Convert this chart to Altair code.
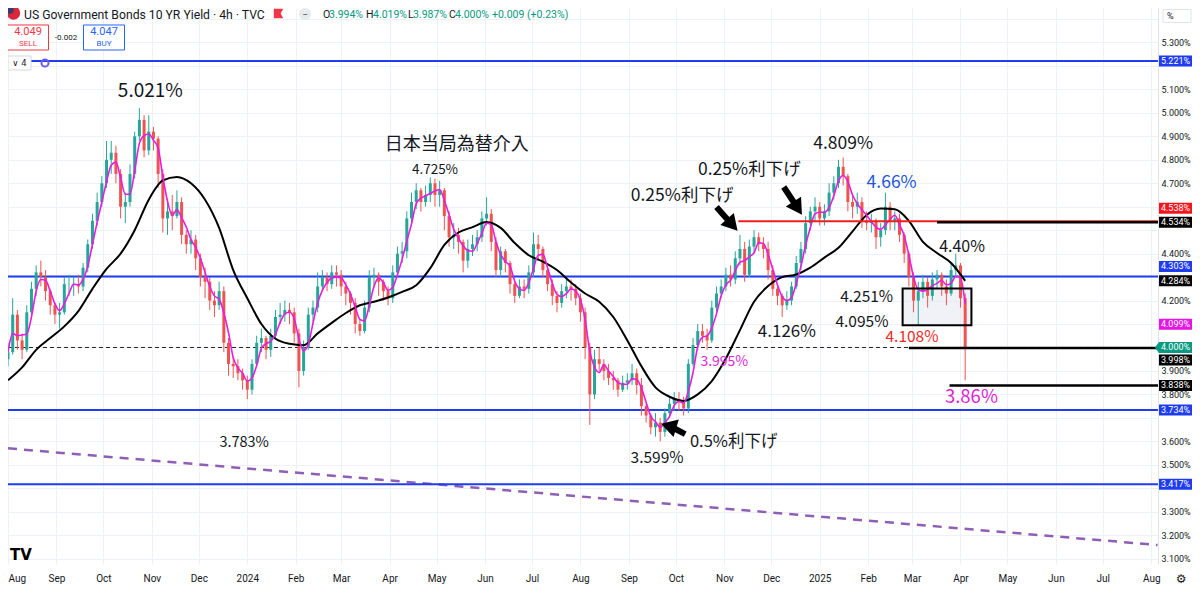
import altair as alt
import numpy as np
import pandas as pd

W, H = 1150, 556

# ---------------- data ----------------
candle_start = "2023-08-01"
candle_count = 205            # one candle every 3 days
first_open = 3.95
close = [3.98, 4.14, 4.03, 3.99, 4.15, 4.25, 4.32, 4.30, 4.24, 4.18,
         4.14, 4.15, 4.27, 4.27, 4.27, 4.26, 4.34, 4.44, 4.54, 4.62,
         4.70, 4.80, 4.83, 4.74, 4.60, 4.62, 4.74, 4.90, 4.97, 4.84,
         4.92, 4.89, 4.74, 4.55, 4.58, 4.56, 4.62, 4.48, 4.44, 4.46,
         4.38, 4.30, 4.28, 4.20, 4.18, 4.24, 4.02, 3.93, 3.92, 3.89,
         3.86, 3.82, 3.93, 4.02, 4.04, 3.99, 4.05, 4.13, 4.14, 4.16,
         4.15, 4.06, 3.90, 4.00, 4.14, 4.17, 4.26, 4.30, 4.27, 4.32,
         4.31, 4.26, 4.23, 4.19, 4.10, 4.07, 4.17, 4.30, 4.31, 4.28,
         4.24, 4.21, 4.32, 4.40, 4.41, 4.55, 4.62, 4.67, 4.62, 4.65,
         4.70, 4.65, 4.67, 4.56, 4.47, 4.48, 4.45, 4.37, 4.42, 4.44,
         4.47, 4.55, 4.57, 4.45, 4.33, 4.41, 4.36, 4.27, 4.22, 4.26,
         4.25, 4.32, 4.44, 4.42, 4.33, 4.27, 4.22, 4.19, 4.24, 4.26,
         4.25, 4.21, 4.15, 4.00, 3.80, 3.95, 3.93, 3.90, 3.87, 3.86,
         3.82, 3.85, 3.86, 3.89, 3.84, 3.75, 3.71, 3.66, 3.68, 3.64,
         3.72, 3.76, 3.78, 3.77, 3.74, 3.93, 4.01, 4.07, 4.05, 4.03,
         4.17, 4.23, 4.26, 4.31, 4.29, 4.38, 4.42, 4.31, 4.43, 4.47,
         4.44, 4.42, 4.33, 4.25, 4.22, 4.18, 4.20, 4.26, 4.36, 4.42,
         4.53, 4.58, 4.60, 4.55, 4.58, 4.66, 4.70, 4.77, 4.73, 4.62,
         4.60, 4.62, 4.54, 4.53, 4.54, 4.47, 4.50, 4.60, 4.54, 4.55,
         4.48, 4.40, 4.30, 4.20, 4.24, 4.28, 4.22, 4.29, 4.31, 4.26,
         4.23, 4.33, 4.35, 4.21, 4.00]
high = [4.02, 4.21, 4.16, 4.06, 4.18, 4.28, 4.35, 4.37, 4.33, 4.25,
        4.19, 4.19, 4.30, 4.31, 4.30, 4.31, 4.36, 4.46, 4.57, 4.66,
        4.73, 4.88, 4.88, 4.86, 4.76, 4.66, 4.78, 4.92, 5.02, 4.99,
        4.99, 4.94, 4.90, 4.76, 4.63, 4.65, 4.67, 4.64, 4.50, 4.50,
        4.48, 4.40, 4.34, 4.30, 4.24, 4.28, 4.26, 4.04, 3.96, 3.95,
        3.91, 3.88, 3.95, 4.05, 4.08, 4.05, 4.08, 4.16, 4.19, 4.20,
        4.19, 4.17, 4.08, 4.03, 4.17, 4.20, 4.32, 4.33, 4.32, 4.35,
        4.35, 4.33, 4.28, 4.24, 4.21, 4.12, 4.20, 4.33, 4.34, 4.32,
        4.29, 4.26, 4.35, 4.43, 4.45, 4.58, 4.66, 4.70, 4.68, 4.69,
        4.725, 4.72, 4.71, 4.68, 4.58, 4.53, 4.51, 4.46, 4.46, 4.48,
        4.50, 4.58, 4.64, 4.59, 4.47, 4.43, 4.42, 4.37, 4.28, 4.29,
        4.29, 4.35, 4.49, 4.48, 4.43, 4.34, 4.29, 4.24, 4.27, 4.29,
        4.29, 4.27, 4.23, 4.17, 4.02, 3.99, 4.00, 3.95, 3.93, 3.90,
        3.87, 3.88, 3.89, 3.93, 3.91, 3.87, 3.76, 3.72, 3.72, 3.70,
        3.74, 3.79, 3.81, 3.81, 3.79, 3.95, 4.04, 4.10, 4.10, 4.08,
        4.20, 4.26, 4.29, 4.34, 4.35, 4.41, 4.48, 4.45, 4.46, 4.50,
        4.49, 4.47, 4.45, 4.35, 4.26, 4.23, 4.24, 4.28, 4.39, 4.45,
        4.56, 4.60, 4.64, 4.62, 4.61, 4.70, 4.73, 4.80, 4.81, 4.74,
        4.65, 4.66, 4.64, 4.58, 4.57, 4.55, 4.53, 4.66, 4.62, 4.58,
        4.57, 4.49, 4.41, 4.32, 4.28, 4.31, 4.30, 4.32, 4.33, 4.32,
        4.29, 4.36, 4.40, 4.36, 4.23]
low = [3.92, 3.97, 3.99, 3.95, 3.98, 4.13, 4.22, 4.26, 4.20, 4.14,
       4.10, 4.08, 4.14, 4.22, 4.22, 4.23, 4.24, 4.32, 4.42, 4.52,
       4.60, 4.68, 4.74, 4.70, 4.55, 4.53, 4.60, 4.72, 4.88, 4.81,
       4.82, 4.84, 4.68, 4.49, 4.48, 4.50, 4.55, 4.44, 4.40, 4.40,
       4.33, 4.26, 4.21, 4.16, 4.13, 4.16, 3.98, 3.88, 3.87, 3.86,
       3.82, 3.78, 3.80, 3.92, 3.98, 3.95, 3.96, 4.04, 4.10, 4.11,
       4.10, 4.02, 3.83, 3.88, 3.99, 4.11, 4.15, 4.24, 4.24, 4.25,
       4.26, 4.22, 4.18, 4.14, 4.06, 4.05, 4.06, 4.15, 4.26, 4.22,
       4.20, 4.18, 4.19, 4.30, 4.36, 4.38, 4.52, 4.59, 4.58, 4.60,
       4.62, 4.60, 4.60, 4.50, 4.43, 4.42, 4.40, 4.32, 4.34, 4.39,
       4.41, 4.45, 4.52, 4.41, 4.30, 4.30, 4.32, 4.23, 4.19, 4.21,
       4.21, 4.23, 4.30, 4.37, 4.30, 4.24, 4.18, 4.15, 4.17, 4.21,
       4.20, 4.18, 4.11, 3.95, 3.67, 3.78, 3.90, 3.86, 3.84, 3.82,
       3.79, 3.81, 3.82, 3.84, 3.80, 3.71, 3.68, 3.63, 3.62, 3.60,
       3.62, 3.70, 3.73, 3.73, 3.71, 3.72, 3.92, 3.99, 4.02, 3.99,
       4.02, 4.15, 4.21, 4.24, 4.26, 4.27, 4.35, 4.28, 4.30, 4.40,
       4.41, 4.38, 4.29, 4.22, 4.18, 4.13, 4.16, 4.18, 4.25, 4.33,
       4.40, 4.50, 4.54, 4.52, 4.52, 4.56, 4.63, 4.68, 4.69, 4.58,
       4.55, 4.57, 4.51, 4.50, 4.49, 4.42, 4.43, 4.48, 4.50, 4.50,
       4.45, 4.36, 4.26, 4.15, 4.095, 4.21, 4.17, 4.20, 4.25, 4.22,
       4.18, 4.22, 4.30, 4.17, 3.86]
# long (black) moving average, read at every third candle
ma_long = [3.86, 3.915, 3.99, 4.04, 4.09, 4.155, 4.25, 4.335, 4.40, 4.50,
           4.63, 4.712, 4.727, 4.70, 4.63, 4.51, 4.33, 4.21, 4.10, 4.037,
           4.016, 4.01, 4.06, 4.105, 4.147, 4.18, 4.195, 4.213, 4.237, 4.265,
           4.338, 4.437, 4.49, 4.513, 4.535, 4.51, 4.445, 4.393, 4.366, 4.33,
           4.277, 4.23, 4.195, 4.13, 4.03, 3.92, 3.83, 3.79, 3.772, 3.80,
           3.857, 3.953, 4.074, 4.195, 4.262, 4.30, 4.311, 4.34, 4.383, 4.425,
           4.495, 4.565, 4.592, 4.589, 4.54, 4.45, 4.403, 4.36, 4.284]

blue_levels = [5.221, 4.303, 3.734, 3.417]
red_level, red_start = 4.538, "2024-11-10"
black_levels = [4.534, 3.998, 3.838]
black_starts = ["2025-03-17", "2025-02-27", "2025-03-25"]
price_level = 4.000
trend_dates = ["2023-08-01", "2025-08-05"]
trend_vals = [3.570, 3.158]
zone_dates = ["2025-02-23", "2025-04-08"]
zone_vals = [4.251, 4.095]

ann_text = ["5.021%", "日本当局為替介入", "4.725%", "3.783%", "0.25%利下げ", "0.25%利下げ",
            "4.809%", "4.66%", "4.40%", "4.251%", "4.095%", "4.108%", "4.126%",
            "3.995%", "3.86%", "0.5%利下げ", "3.599%"]
ann_date = ["2023-10-31", "2024-05-14", "2024-04-30", "2023-12-30", "2024-10-05", "2024-11-17",
            "2025-01-16", "2025-02-16", "2025-04-02", "2025-01-31", "2025-01-28", "2025-03-01",
            "2024-12-11", "2024-11-01", "2025-04-08", "2024-11-07", "2024-09-19"]
ann_val = [5.093, 4.862, 4.757, 3.593, 4.647, 4.756, 4.867, 4.701, 4.428, 4.215, 4.109,
           4.045, 4.066, 3.938, 3.789, 3.597, 3.529]
ann_size = [19, 18, 13.5, 14.5, 17.5, 17.5, 17.5, 17.5, 16, 15.5, 15.5, 15.5, 17, 14, 18.5, 16.5, 15.5]
ann_color = ["#131722", "#131722", "#131722", "#131722", "#131722", "#131722", "#131722",
             "#2157d8", "#131722", "#131722", "#131722", "#f02828", "#131722", "#e01fd6",
             "#e01fd6", "#131722", "#131722"]

arrow_tail_date = ["2024-10-27", "2024-12-09", "2024-10-07"]
arrow_tail_val = [4.599, 4.684, 3.631]
arrow_head_date = ["2024-11-05", "2024-12-17", "2024-09-28"]
arrow_head_val = [4.531, 4.603, 3.662]
arrow_angle = [138, 147, 287]

ytick_values = [3.1, 3.2, 3.3, 3.4, 3.5, 3.6, 3.7, 3.8, 3.9, 4.0, 4.1, 4.2,
                4.3, 4.4, 4.5, 4.6, 4.7, 4.8, 4.9, 5.0, 5.1, 5.2, 5.3, 5.4]
# tick labels hidden under the price tags (tenths)
hidden_ticks = [54, 52, 46, 45, 43, 41, 40, 37, 34]

tag_text = ["5.221%", "4.538%", "4.534%", "4.303%", "4.284%", "4.099%",
            "4.000%", "3.998%", "3.838%", "3.734%", "3.417%"]
tag_val = [5.221, 4.538, 4.534, 4.303, 4.284, 4.099, 4.000, 3.998, 3.838, 3.734, 3.417]
tag_color = ["#1f3cf0", "#f5141c", "#000000", "#1f3cf0", "#000000", "#e515e5",
             "#089981", "#000000", "#000000", "#1f3cf0", "#1f3cf0"]
tag_nudge = [0, -13, 0, -10, 0, 0, 0, 12, 0, 0, 0]

# ---------------- frames ----------------
dates = pd.date_range(candle_start, periods=candle_count, freq="3D")
opens = [first_open] + close[:-1]
candles = pd.DataFrame({"date": dates, "open": opens, "high": high, "low": low, "close": close})
candles["dir"] = np.where(candles["close"] >= candles["open"], "up", "down")
ma_df = pd.DataFrame({"date": dates[::3], "v": ma_long})

one = pd.DataFrame({"k": [0]})

xs = alt.Scale(domain=[alt.DateTime(year=2023, month=8, date=1),
                       alt.DateTime(year=2025, month=8, date=5, hours=7)],
               nice=False, padding=0)
ys = alt.Scale(domain=[3.0771, 5.447], nice=False, zero=False, padding=0)
xaxis = alt.Axis(title=None, tickCount={"interval": "month", "step": 1},
                 labelExpr="month(datum.value) == 0 ? timeFormat(datum.value, '%Y') : timeFormat(datum.value, '%b')",
                 grid=True, gridColor="#eef1f6", tickSize=0, labelPadding=9, domain=False,
                 labelFont="Roboto", labelFontSize=10, labelColor="#131722", labelFlush=True,
                 labelOverlap=False)
yaxis = alt.Axis(title=None, orient="right", values=ytick_values,
                 labelExpr="indexof(" + str(hidden_ticks) + ", round(datum.value * 10)) >= 0 ? '' : format(datum.value, '.3f') + '%'",
                 grid=True, gridColor="#eef1f6", tickSize=0, labelPadding=3, domain=True,
                 domainColor="#e0e3eb", labelFont="Roboto", labelFontSize=9,
                 labelColor="#131722", labelOverlap=False)


def X(f):
    return alt.X(f"{f}:T", scale=xs, axis=xaxis)


def Y(f):
    return alt.Y(f"{f}:Q", scale=ys, axis=yaxis)


def ptext(px, py, txt, size, color="#131722", align="left", font="Roboto", weight="normal"):
    return alt.Chart(one).mark_text(text=txt, align=align, baseline="middle", font=font,
                                    fontSize=size, color=color, fontWeight=weight
                                    ).encode(x=alt.value(px), y=alt.value(py))


def pshape(px, py, shape, size, fill, stroke=None, sw=1.0, clip=False):
    kw = dict(shape=shape, size=size, opacity=1, clip=clip, filled=True, fill=fill, strokeWidth=sw)
    if stroke is not None:
        kw["stroke"] = stroke
    return alt.Chart(one).mark_point(**kw).encode(x=alt.value(px), y=alt.value(py))


layers = []

# purple dashed trend line
trend = pd.DataFrame({"date": pd.to_datetime(trend_dates), "v": trend_vals})
layers.append(alt.Chart(trend).mark_line(color="#8e5fb5", strokeWidth=2.5, strokeDash=[9, 7], clip=True)
              .encode(x=X("date"), y=Y("v")))

# blue horizontal levels
layers.append(alt.Chart(pd.DataFrame({"v": blue_levels})).mark_rule(color="#1f3cf0", strokeWidth=2)
              .encode(y=Y("v"), x=alt.value(0), x2=alt.value(W)))

# box zone fill
zone = pd.DataFrame({"d1": [pd.Timestamp(zone_dates[0])], "d2": [pd.Timestamp(zone_dates[1])],
                     "top": [zone_vals[0]], "bot": [zone_vals[1]]})
layers.append(alt.Chart(zone).mark_rect(fill="#e3e7f0", fillOpacity=0.55)
              .encode(x=X("d1"), x2="d2:T", y=Y("top"), y2="bot:Q"))

# dotted price line
layers.append(alt.Chart(pd.DataFrame({"v": [price_level]}))
              .mark_rule(color="#222222", strokeWidth=1, strokeDash=[4, 3])
              .encode(y=Y("v"), x=alt.value(0), x2=alt.value(W)))

# candles
cscale = alt.Color("dir:N", scale=alt.Scale(domain=["up", "down"], range=["#26a69a", "#ef5350"]), legend=None)
base = alt.Chart(candles)
layers.append(base.mark_rule(strokeWidth=1, clip=True).encode(x=X("date"), y=Y("low"), y2="high:Q", color=cscale))
layers.append(base.mark_bar(size=3, clip=True).encode(x=X("date"), y=Y("open"), y2="close:Q", color=cscale))

# moving averages
layers.append(alt.Chart(ma_df).mark_line(color="#000000", strokeWidth=2, interpolate="monotone", clip=True)
              .encode(x=X("date"), y=Y("v")))
layers.append(base.transform_window(ms="mean(close)", frame=[-2, 0], sort=[alt.SortField("date")])
              .mark_line(color="#e81ce0", strokeWidth=1.6, interpolate="monotone", clip=True)
              .encode(x=X("date"), y=Y("ms")))

# red and black horizontal segments
layers.append(alt.Chart(pd.DataFrame({"start": [pd.Timestamp(red_start)], "v": [red_level]}))
              .mark_rule(color="#f01e1e", strokeWidth=2)
              .encode(x=X("start"), x2=alt.value(W), y=Y("v")))
layers.append(alt.Chart(pd.DataFrame({"start": pd.to_datetime(black_starts), "v": black_levels}))
              .mark_rule(color="#000000", strokeWidth=2.5)
              .encode(x=X("start"), x2=alt.value(W), y=Y("v")))

# zone outline
layers.append(alt.Chart(zone).mark_rect(fill="transparent", stroke="#000000", strokeWidth=2)
              .encode(x=X("d1"), x2="d2:T", y=Y("top"), y2="bot:Q"))

# arrows
arrows = pd.DataFrame({"d1": pd.to_datetime(arrow_tail_date), "v1": arrow_tail_val,
                       "d2": pd.to_datetime(arrow_head_date), "v2": arrow_head_val, "ang": arrow_angle})
layers.append(alt.Chart(arrows).mark_rule(color="#000000", strokeWidth=6, strokeCap="butt")
              .encode(x=X("d1"), y=Y("v1"), x2="d2:T", y2="v2:Q"))
layers.append(alt.Chart(arrows).mark_point(shape="triangle", filled=True, size=330, color="#000000", opacity=1)
              .encode(x=X("d2"), y=Y("v2"), angle=alt.Angle("ang:Q", scale=None)))

# annotations
ann = pd.DataFrame({"date": pd.to_datetime(ann_date), "v": ann_val, "text": ann_text,
                    "size": ann_size, "color": ann_color})
layers.append(alt.Chart(ann).mark_text(font="Noto Sans CJK JP", align="center", baseline="middle")
              .encode(x=X("date"), y=Y("v"), text="text:N",
                      color=alt.Color("color:N", scale=None), size=alt.Size("size:Q", scale=None)))

# price-axis tags
TAG_X = 1167.5
rect_path = "M-1,-0.333H1V0.333H-1Z"
arrow_path = "M-1.25,0L-1,-0.333H1V0.333H-1Z"
for t, v, c, nd in zip(tag_text, tag_val, tag_color, tag_nudge):
    d = pd.DataFrame({"v": [v]})
    shp = arrow_path if c == "#089981" else rect_path
    layers.append(alt.Chart(d).mark_point(shape=shp, size=1089, filled=True, fill=c, opacity=1,
                                          strokeWidth=0, yOffset=nd)
                  .encode(x=alt.value(TAG_X), y=Y("v")))
    layers.append(alt.Chart(d).mark_text(text=t, color="#ffffff", font="Roboto", fontSize=9,
                                         align="center", baseline="middle", yOffset=nd)
                  .encode(x=alt.value(TAG_X), y=Y("v")))

# header
layers.append(pshape(5.5, 5, "circle", 180, "#d8283b", clip=True))
layers.append(pshape(2, 2, "circle", 55, "#3c3b6e", clip=True))
layers.append(ptext(16, 7, "US Government Bonds 10 YR Yield · 4h · TVC", 12.2))
layers.append(pshape(270, 6, "M-0.8,-1H1L0.5,-0.1L1,0.8H-0.8Z", 110, "#f23645", clip=True))
layers.append(pshape(297, 6, "circle", 150, "#e9eaee", clip=True))
layers.append(ptext(297, 6.5, "−", 10, color="#555555", align="center"))
ohlc = [(315, "O", "#131722"), (321, "3.994%", "#089981"), (358, "H", "#131722"),
        (365, "4.019%", "#089981"), (400, "L", "#131722"), (405, "3.987%", "#089981"),
        (441, "C", "#131722"), (447, "4.000%", "#089981"), (484, "+0.009 (+0.23%)", "#089981")]
for px, t, c in ohlc:
    layers.append(ptext(px, 6.5, t, 10.5, color=c))

box_path = "M-1,-0.61H1V0.61H-1Z"
layers.append(pshape(20, 29.5, box_path, 1681, "#ffffff", stroke="#f23645", sw=1))
layers.append(ptext(20, 24, "4.049", 11, color="#f23645", align="center"))
layers.append(ptext(20, 35.5, "SELL", 8, color="#f23645", align="center"))
layers.append(ptext(58, 30, "-0.002", 8, align="center"))
layers.append(pshape(96, 29.5, box_path, 1681, "#ffffff", stroke="#2962ff", sw=1))
layers.append(ptext(96, 24, "4.047", 11, color="#2962ff", align="center"))
layers.append(ptext(96, 35.5, "BUY", 8, color="#2962ff", align="center"))
layers.append(pshape(11.5, 55, box_path, 529, "#ffffff", stroke="#d6d9e0", sw=1))
layers.append(ptext(11.5, 55, "∨ 4", 8.5, align="center", font="DejaVu Sans"))
layers.append(alt.Chart(one).mark_point(shape="circle", size=50, filled=False, color="#6b5cf0",
                                        strokeWidth=2, opacity=1)
              .encode(x=alt.value(37), y=alt.value(55)))

# percent box, logo, gear
layers.append(pshape(1169, 8, "M-1,-0.46H1V0.46H-1Z", 784, "#ffffff", stroke="#e0e3eb", sw=1))
layers.append(ptext(1159, 8, "%", 9))
layers.append(ptext(13, 547, "TV", 15, color="#000000", align="center", font="DejaVu Sans", weight="bold"))
layers.append(ptext(1173, 571, "⚙", 12, color="#131722", align="center", font="DejaVu Sans"))

chart = alt.layer(*layers).properties(
    width=W, height=H, background="white",
    autosize=alt.AutoSizeParams(type="none"),
    padding={"left": 0, "top": 0, "right": 34, "bottom": 22},
).configure_view(stroke=None)

chart.save("out.html", embed_options={"renderer": "svg", "actions": False})
